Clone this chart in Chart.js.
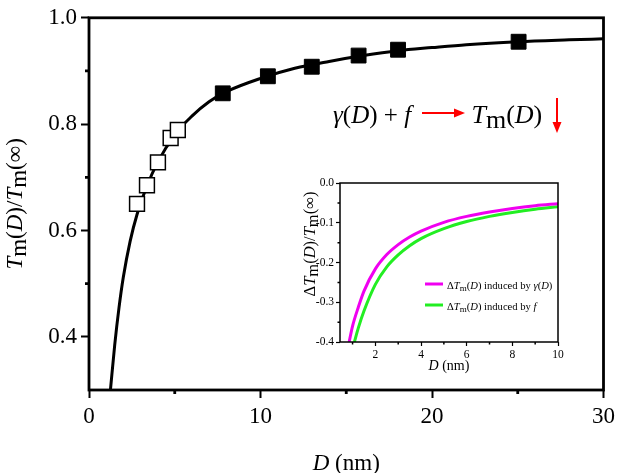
<!DOCTYPE html>
<html><head><meta charset="utf-8">
<script src="https://cdn.jsdelivr.net/npm/chart.js@4.4.0/dist/chart.umd.min.js"></script>
<style>
html,body{margin:0;padding:0;background:#fff;}
#wrap{position:relative;width:620px;height:473px;overflow:hidden;}
#main{position:absolute;left:0;top:0;}
#inset{position:absolute;left:280px;top:170px;}
</style></head><body>
<div id="wrap"><canvas id="main" width="620" height="473"></canvas><canvas id="inset" width="290" height="215"></canvas></div>
<script>
// ---- data ----
const fitD = [1.25, 1.5, 1.75, 2.0, 2.4, 2.8, 3.4, 4.0, 5.0, 6.0, 7.0, 8.0, 10, 12, 14, 16, 18, 20, 22, 25, 28, 30];
const fitY = [0.30, 0.385, 0.455, 0.512, 0.58, 0.63, 0.685, 0.728, 0.78, 0.815, 0.842, 0.861, 0.886, 0.905, 0.918, 0.929, 0.938, 0.944, 0.9495, 0.955, 0.9585, 0.9605];
const openD = [2.8, 3.38, 4.02, 4.76, 5.18];
const openY = [0.65, 0.685, 0.728, 0.774, 0.789];
const solidD = [7.8, 10.43, 12.99, 15.72, 18.02, 25.05];
const solidY = [0.858, 0.89, 0.908, 0.929, 0.94, 0.955];
const mainXTicks = [0, 10, 20, 30];
const mainYTicks = [0.4, 0.6, 0.8, 1.0];
const mainXMinor = [5, 15, 25];
const mainYMinor = [0.5, 0.7, 0.9];

const gammaD = [0.85, 1.0, 1.25, 1.5, 2.0, 2.5, 3.0, 3.5, 4, 5, 6, 7, 8, 9, 10];
const gammaV = [-0.40, -0.36, -0.313, -0.272, -0.216, -0.180, -0.155, -0.136, -0.121, -0.099, -0.084, -0.073, -0.064, -0.057, -0.052];
const fD = [1.08, 1.25, 1.5, 2.0, 2.5, 3.0, 3.5, 4, 5, 6, 7, 8, 9, 10];
const fV = [-0.40, -0.365, -0.322, -0.255, -0.211, -0.181, -0.158, -0.140, -0.115, -0.097, -0.084, -0.074, -0.066, -0.060];
const insetXTicks = [2, 4, 6, 8, 10];
const insetYTicks = [0.0, -0.1, -0.2, -0.3, -0.4];
const insetXMinor = [1, 3, 5, 7, 9];
const insetYMinor = [-0.05, -0.15, -0.25, -0.35];

const SERIF = '"Liberation Serif", "Times New Roman", serif';
const pts = (xs, ys) => xs.map((x, i) => ({x: x, y: ys[i]}));

// ---- rich text helper ----
function fontOf(s, base){ return (s.i ? 'italic ' : '') + ((s.s || 1) * base).toFixed(1) + 'px ' + SERIF; }
function richWidth(ctx, segs, base){ let w = 0; for (const s of segs){ ctx.font = fontOf(s, base); w += ctx.measureText(s.t).width; } return w; }
function drawRich(ctx, segs, x, y, base, align, rot, color){
  ctx.save(); ctx.translate(x, y); if (rot) ctx.rotate(rot);
  ctx.textBaseline = 'alphabetic'; ctx.textAlign = 'left'; ctx.fillStyle = color || '#000';
  const w = richWidth(ctx, segs, base);
  let cx = align === 'center' ? -w / 2 : (align === 'right' ? -w : 0);
  for (const s of segs){ ctx.font = fontOf(s, base); ctx.fillText(s.t, cx, (s.dy || 0) * base); cx += ctx.measureText(s.t).width; }
  ctx.restore();
}

function frameMinor(minX, minY, len, lw){
  return { id: 'frameMinor', afterDraw(chart){
    const c = chart.ctx, a = chart.chartArea, xs = chart.scales.x, ys = chart.scales.y;
    c.save(); c.strokeStyle = '#000'; c.lineWidth = lw;
    c.strokeRect(a.left, a.top, a.right - a.left, a.bottom - a.top);
    c.beginPath();
    for (const v of minX){ const px = xs.getPixelForValue(v); c.moveTo(px, a.bottom); c.lineTo(px, a.bottom + len); }
    for (const v of minY){ const py = ys.getPixelForValue(v); c.moveTo(a.left, py); c.lineTo(a.left - len, py); }
    c.stroke(); c.restore();
  }};
}

const whiteBg = { id: 'whiteBg', beforeDraw(chart){ const c = chart.ctx; c.save(); c.fillStyle = '#fff'; c.fillRect(0, 0, chart.width, chart.height); c.restore(); } };

const mainText = { id: 'mainText', afterDraw(chart){
  const c = chart.ctx, a = chart.chartArea;
  drawRich(c, [{t: 'D', i: true}, {t: ' (nm)'}], (a.left + a.right) / 2, 470, 23, 'center');
  drawRich(c, [{t: 'T', i: true}, {t: 'm', dy: 0.18}, {t: '('}, {t: 'D', i: true}, {t: ')/'}, {t: 'T', i: true}, {t: 'm', dy: 0.18}, {t: '(\u221E)'}],
    22, (a.top + a.bottom) / 2, 23, 'center', -Math.PI / 2);
  drawRich(c, [{t: '\u03B3', i: true}, {t: '('}, {t: 'D', i: true}, {t: ') + '}, {t: 'f', i: true}], 333, 123, 25, 'left');
  drawRich(c, [{t: 'T', i: true}, {t: 'm', dy: 0.19}, {t: '('}, {t: 'D', i: true}, {t: ')'}], 471.5, 123, 26, 'left');
  c.save(); c.strokeStyle = '#f00'; c.fillStyle = '#f00'; c.lineWidth = 2;
  c.beginPath(); c.moveTo(422, 113); c.lineTo(456, 113); c.stroke();
  c.beginPath(); c.moveTo(465, 113); c.lineTo(454, 108.5); c.lineTo(454, 117.5); c.closePath(); c.fill();
  c.beginPath(); c.moveTo(557, 98); c.lineTo(557, 124); c.stroke();
  c.beginPath(); c.moveTo(557, 133); c.lineTo(552.5, 122); c.lineTo(561.5, 122); c.closePath(); c.fill();
  c.restore();
}};

new Chart(document.getElementById('main'), {
  type: 'scatter',
  data: { datasets: [
    { data: pts(fitD, fitY), showLine: true, borderColor: '#000', borderWidth: 3, pointRadius: 0, cubicInterpolationMode: 'monotone', order: 3 },
    { data: pts(openD, openY), pointStyle: 'rect', pointRadius: 10.5, backgroundColor: '#fff', borderColor: '#000', borderWidth: 1.5, order: 2 },
    { data: pts(solidD, solidY), pointStyle: 'rect', pointRadius: 10.5, backgroundColor: '#000', borderColor: '#000', borderWidth: 1, order: 1 }
  ]},
  options: {
    responsive: false, animation: false, events: [],
    layout: { padding: { left: 0, top: 12, right: 15, bottom: 0 } },
    plugins: { legend: { display: false }, tooltip: { enabled: false } },
    scales: {
      x: { type: 'linear', min: 0, max: 30,
        afterFit(s){ s.height = 83; },
        afterBuildTicks(s){ s.ticks = mainXTicks.map(v => ({value: v})); },
        ticks: { font: { family: SERIF, size: 23 }, color: '#000', padding: 5, maxRotation: 0, autoSkip: false },
        grid: { drawOnChartArea: false, drawTicks: true, tickLength: 8, tickWidth: 2, tickColor: '#000' },
        border: { display: false } },
      y: { type: 'linear', min: 0.3, max: 1.0,
        afterFit(s){ s.width = 89; },
        afterBuildTicks(s){ s.ticks = mainYTicks.map(v => ({value: v})); },
        ticks: { font: { family: SERIF, size: 23 }, color: '#000', padding: 4, autoSkip: false, callback: v => Number(v).toFixed(1) },
        grid: { drawOnChartArea: false, drawTicks: true, tickLength: 8, tickWidth: 2, tickColor: '#000' },
        border: { display: false } }
    }
  },
  plugins: [whiteBg, frameMinor(mainXMinor, mainYMinor, 4, 2.8), mainText]
});

const insetText = { id: 'insetText', afterDraw(chart){
  const c = chart.ctx, a = chart.chartArea;
  drawRich(c, [{t: 'D', i: true}, {t: ' (nm)'}], (a.left + a.right) / 2, 200, 14, 'center');
  drawRich(c, [{t: '\u0394'}, {t: 'T', i: true}, {t: 'm', dy: 0.18}, {t: '('}, {t: 'D', i: true}, {t: ')/'}, {t: 'T', i: true}, {t: 'm', dy: 0.18}, {t: '(\u221E)'}],
    35, 74, 16.5, 'center', -Math.PI / 2);
  c.save(); c.lineWidth = 3;
  c.strokeStyle = '#f000f0'; c.beginPath(); c.moveTo(145, 114); c.lineTo(163, 114); c.stroke();
  c.strokeStyle = '#22ee22'; c.beginPath(); c.moveTo(145, 135); c.lineTo(163, 135); c.stroke();
  c.restore();
  drawRich(c, [{t: '\u0394'}, {t: 'T', i: true}, {t: 'm', s: 0.85, dy: 0.2}, {t: '('}, {t: 'D', i: true}, {t: ') induced by '}, {t: '\u03B3', i: true}, {t: '('}, {t: 'D', i: true}, {t: ')'}], 167, 118.5, 10.6, 'left');
  drawRich(c, [{t: '\u0394'}, {t: 'T', i: true}, {t: 'm', s: 0.85, dy: 0.2}, {t: '('}, {t: 'D', i: true}, {t: ') induced by '}, {t: 'f', i: true}], 167, 139.5, 10.6, 'left');
}};

new Chart(document.getElementById('inset'), {
  type: 'scatter',
  data: { datasets: [
    { data: pts(gammaD, gammaV), showLine: true, borderColor: '#f000f0', borderWidth: 3, pointRadius: 0, cubicInterpolationMode: 'monotone' },
    { data: pts(fD, fV), showLine: true, borderColor: '#22ee22', borderWidth: 3, pointRadius: 0, cubicInterpolationMode: 'monotone' }
  ]},
  options: {
    responsive: false, animation: false, events: [],
    layout: { padding: { left: 0, top: 13, right: 12, bottom: 0 } },
    plugins: { legend: { display: false }, tooltip: { enabled: false } },
    scales: {
      x: { type: 'linear', min: 0.45, max: 10,
        afterFit(s){ s.height = 43; },
        afterBuildTicks(s){ s.ticks = insetXTicks.map(v => ({value: v})); },
        ticks: { font: { family: SERIF, size: 11.5 }, color: '#000', padding: 2, maxRotation: 0, autoSkip: false },
        grid: { drawOnChartArea: false, drawTicks: true, tickLength: 4, tickWidth: 1.2, tickColor: '#000' },
        border: { display: false } },
      y: { type: 'linear', min: -0.4, max: 0,
        afterFit(s){ s.width = 60; },
        afterBuildTicks(s){ s.ticks = insetYTicks.map(v => ({value: v})); },
        ticks: { font: { family: SERIF, size: 11.5 }, color: '#000', padding: 2, autoSkip: false, callback: v => Number(v).toFixed(1) },
        grid: { drawOnChartArea: false, drawTicks: true, tickLength: 4, tickWidth: 1.2, tickColor: '#000' },
        border: { display: false } }
    }
  },
  plugins: [frameMinor(insetXMinor, insetYMinor, 2.5, 1.5), insetText]
});
</script>
</body></html>
